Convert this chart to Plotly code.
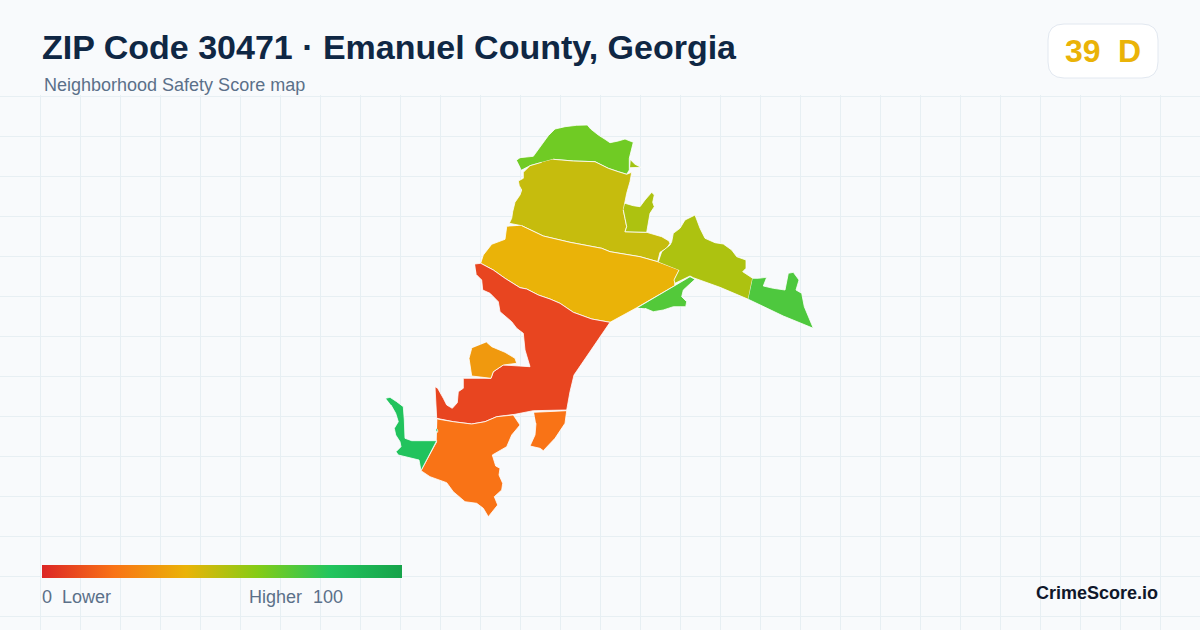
import plotly.graph_objects as go
from plotly.colors import sample_colorscale

W = 1200
H = 630
TOP = 95  # grid starts under the header

# score colours, same ramp for map and legend
score_ramp = [[0, "#dc2626"], [0.2, "#f97316"], [0.4, "#eab308"],
              [0.6, "#84cc16"], [0.8, "#22c55e"], [1, "#16a34a"]]

tract_names = ["north", "sliver", "olive", "pocket", "yellow", "red", "east", "far_east",
               "strip", "mid", "south", "south_small", "west", "speck"]
tract_scores = [64, 54, 47, 52, 40, 8, 52, 71, 70, 32, 20, 20, 81, 81]

north_x = [516.7, 520, 533.3, 541.7, 548.3, 555, 565, 576.7, 587.3, 590.7, 598.3, 605, 610, 618.3, 625, 633.3, 631.7, 629.3, 629.3, 626.7, 618.3, 608.3, 595, 573.3, 553.3, 541.7, 530, 521.7]
north_y = [160, 157.7, 156.3, 145, 135.7, 129, 126.7, 125.3, 125, 129, 135, 139.3, 142.7, 141, 139, 142.3, 150, 158.3, 170, 174.3, 171.7, 168.3, 161.7, 161, 159.3, 162.3, 165.7, 170]

sliver_x = [630.7, 635, 641, 630]
sliver_y = [160, 164.3, 167.3, 167.7]

olive_x = [553.3, 573.3, 595, 608.3, 618.3, 626.7, 631.7, 630, 626.7, 625, 623.3, 625, 626.7, 625, 646.7, 661.7, 669, 670, 666.7, 660, 657.7, 640, 610, 601.7, 570, 543.3, 521.7, 509.3, 511.7, 512.7, 515, 520, 521.7, 519.3, 518.3, 523.3, 523.3, 530, 541.7]
olive_y = [159.3, 161, 161.7, 168.3, 171.7, 174.3, 172.3, 181.7, 193.3, 203.3, 210, 218.3, 226.7, 231.7, 232.3, 236.7, 241, 243.3, 248.3, 252.3, 261.7, 256.7, 251.7, 248.3, 242.3, 236, 225.7, 223.3, 218.3, 211.7, 202.3, 195, 190, 185.7, 181, 178.3, 172.3, 165.7, 162.3]

pocket_x = [625, 633.3, 640, 645, 651.7, 654.3, 652.7, 654.3, 650, 648.3, 646.7, 625, 626.7, 625, 623.3]
pocket_y = [203.3, 205.7, 206.7, 200, 192.3, 195, 202.3, 206.7, 213.3, 221.7, 232.3, 231.7, 226.7, 218.3, 210]

yellow_x = [521.7, 543.3, 570, 601.7, 610, 640, 657.7, 679.3, 675, 674.7, 636.7, 610, 591.7, 573.3, 560, 550, 538.3, 526.7, 520, 505, 493.3, 480.7, 483.3, 491.7, 505, 506.7]
yellow_y = [225.7, 236, 242.3, 248.3, 251.7, 256.7, 261.7, 270, 278.3, 285.7, 307.7, 322.3, 319, 312.3, 303.3, 299, 295, 289, 287.7, 278.3, 270, 263.3, 255, 244.3, 239.3, 226.7]

red_x = [475, 480.7, 493.3, 505, 520, 526.7, 538.3, 550, 560, 573.3, 591.7, 610, 574, 570, 566.7, 533.3, 515, 496.7, 485, 471.7, 453.3, 436.7, 435, 437.7, 443.3, 446.7, 452.3, 457.3, 458.3, 463.3, 463.3, 491, 493.3, 503.3, 530, 525, 523.3, 516.7, 511.7, 500, 498.3, 490, 482.7, 481.7, 476.7]
red_y = [264, 263.3, 270, 278.3, 287.7, 289, 295, 299, 303.3, 312.3, 319, 322.3, 375, 391.7, 410, 410.7, 414.3, 416.7, 421.7, 424, 421.7, 418.3, 386.7, 388.3, 398.3, 405, 408.3, 402.7, 391.7, 388.3, 378.3, 378.3, 371.7, 365, 366.7, 350, 333.3, 328.3, 321.7, 311.7, 301.7, 293.3, 290, 280, 275]

east_x = [658.3, 661.7, 670, 671.7, 673.3, 680, 685, 695, 700, 705, 715, 723.3, 731.7, 736.7, 746, 746, 742.7, 752.7, 748.3, 720, 693.3, 690, 675, 674, 679]
east_y = [261.7, 251.7, 245, 241.7, 233.3, 228.3, 220, 215, 228.3, 238.3, 242.7, 244, 250, 256.7, 260, 268.3, 271.7, 278.3, 299.3, 287.3, 277.7, 276, 283.3, 280, 270]

far_east_x = [752.7, 758.3, 766.7, 763.3, 773.3, 785, 788.3, 793.3, 799, 796, 801.7, 804.3, 813.3, 783.3, 748.3]
far_east_y = [278.3, 278.3, 277.3, 286, 288.3, 290, 273.3, 272.3, 280, 290, 293.3, 306.7, 328.3, 316, 299.3]

strip_x = [637.3, 690, 695, 683.3, 681.7, 686.7, 685.7, 673.3, 663.3, 653.3, 645]
strip_y = [307.7, 276.7, 279.3, 290, 296.7, 301.7, 306.7, 306.7, 310, 311.7, 308.3]

mid_x = [486.7, 491.7, 505, 515, 516.7, 503.3, 493.3, 491, 471.7, 470, 469, 471.7]
mid_y = [342.3, 346.7, 352.3, 358.3, 363.3, 365, 371.7, 378.3, 376, 366.7, 358.3, 348.3]

south_x = [437.3, 453.3, 471.7, 485, 496.7, 513.3, 520, 511.7, 506.7, 492.3, 495.7, 500, 499, 502.7, 501.7, 494.3, 497.7, 488.3, 483.3, 476.7, 465, 453.3, 446.7, 438.3, 430, 421, 436.7]
south_y = [419, 421.7, 424, 421.7, 416.7, 415, 425, 435, 446.7, 455, 466, 468.3, 475, 483.3, 490, 496.7, 505, 516.7, 508.3, 503.3, 501.7, 491.7, 482.7, 480, 476.7, 470.7, 441.7]

south_small_x = [534, 566.7, 565, 555, 543.3, 540, 530, 535, 536]
south_small_y = [412.3, 410.7, 423.3, 438.3, 450.7, 448.3, 446, 435, 423.3]

west_x = [385.7, 390, 396.7, 403.3, 404.3, 405, 411.7, 436.7, 421, 419, 398.3, 396, 401, 400, 395.7, 394.3, 398.3, 395.7, 391]
west_y = [398.3, 397.3, 401.7, 406.7, 420, 438.3, 440.7, 440.7, 470.7, 460, 455, 451.7, 446.7, 441.7, 435, 428.3, 421.7, 413.3, 405]

speck_x = [436, 437.7, 437.7, 436.3]
speck_y = [428.3, 430, 432.3, 431]

tract_x = [north_x, sliver_x, olive_x, pocket_x, yellow_x, red_x, east_x, far_east_x,
           strip_x, mid_x, south_x, south_small_x, west_x, speck_x]
tract_y = [north_y, sliver_y, olive_y, pocket_y, yellow_y, red_y, east_y, far_east_y,
           strip_y, mid_y, south_y, south_small_y, west_y, speck_y]


def fx(px):
    return px / W


def fy(py):
    return 1 - py / H


fig = go.Figure()

for name, xs, ys, score in zip(tract_names, tract_x, tract_y, tract_scores):
    colour = sample_colorscale(score_ramp, score / 100)[0]
    fig.add_trace(go.Scatter(x=xs, y=ys, name=name, mode="lines", fill="toself",
                             fillcolor=colour, line=dict(color="#ffffff", width=0.8),
                             hoverinfo="name"))

# only here for the legend bar
fig.add_trace(go.Scatter(
    x=[None, None], y=[None, None], mode="markers", hoverinfo="skip",
    marker=dict(color=[0, 100], cmin=0, cmax=100, colorscale=score_ramp, showscale=True,
                colorbar=dict(orientation="h", thickness=13, thicknessmode="pixels",
                              len=360, lenmode="pixels", x=fx(42), xanchor="left",
                              y=fy(565), yanchor="top", xpad=0, ypad=0,
                              outlinewidth=0, showticklabels=False, ticks=""))))

# badge top right, rounded corners
bx0, bx1, by0, by1, r = fx(1048), fx(1158), fy(24), fy(78), 16
rx, ry = r / W, r / H
badge = (f"M {bx0 + rx} {by0} L {bx1 - rx} {by0} Q {bx1} {by0} {bx1} {by0 - ry} "
         f"L {bx1} {by1 + ry} Q {bx1} {by1} {bx1 - rx} {by1} "
         f"L {bx0 + rx} {by1} Q {bx0} {by1} {bx0} {by1 + ry} "
         f"L {bx0} {by0 - ry} Q {bx0} {by0} {bx0 + rx} {by0} Z")
fig.add_shape(type="path", path=badge, xref="paper", yref="paper",
              fillcolor="#ffffff", line=dict(color="#e2e8f0", width=1))


def label(text, x, y, size, colour, bold=False, anchor="left"):
    fig.add_annotation(text=f"<b>{text}</b>" if bold else text, x=fx(x), y=fy(y),
                       xref="paper", yref="paper", xanchor=anchor, yanchor="middle",
                       showarrow=False, font=dict(size=size, color=colour),
                       borderpad=0, borderwidth=0)


label("ZIP Code 30471 · Emanuel County, Georgia", 42, 47, 34, "#0f2744", bold=True)
label("Neighborhood Safety Score map", 44, 85, 18, "#5b7089")
label("39", 1065, 51, 32, "#eab308", bold=True)
label("D", 1118, 51, 32, "#eab308", bold=True)
label("0", 42, 597, 18, "#5b7089")
label("Lower", 62, 597, 18, "#5b7089")
label("Higher", 249, 597, 18, "#5b7089")
label("100", 313, 597, 18, "#5b7089")
label("CrimeScore.io", 1158, 593, 18, "#0f172a", bold=True, anchor="right")

grid = "#e7eff3"
fig.update_layout(
    width=W, height=H, margin=dict(l=0, r=0, t=0, b=0), showlegend=False,
    paper_bgcolor="#f8fafc", plot_bgcolor="#f8fafc",
    font=dict(family="Liberation Sans, Arial, sans-serif"),
    xaxis=dict(range=[0, W], tick0=0.5, dtick=40, showgrid=True, gridcolor=grid, gridwidth=1,
               zeroline=False, showticklabels=False, ticks="", fixedrange=True),
    yaxis=dict(range=[H, TOP], domain=[0, 1 - TOP / H], tick0=96.5, dtick=40, showgrid=True,
               gridcolor=grid, gridwidth=1, zeroline=False, showticklabels=False, ticks="",
               fixedrange=True),
)

# page body has a default 8px margin, drop it so the figure sits at 0,0
fig.write_html("out.html", config={"displayModeBar": False},
               post_script="document.body.style.margin='0';")
